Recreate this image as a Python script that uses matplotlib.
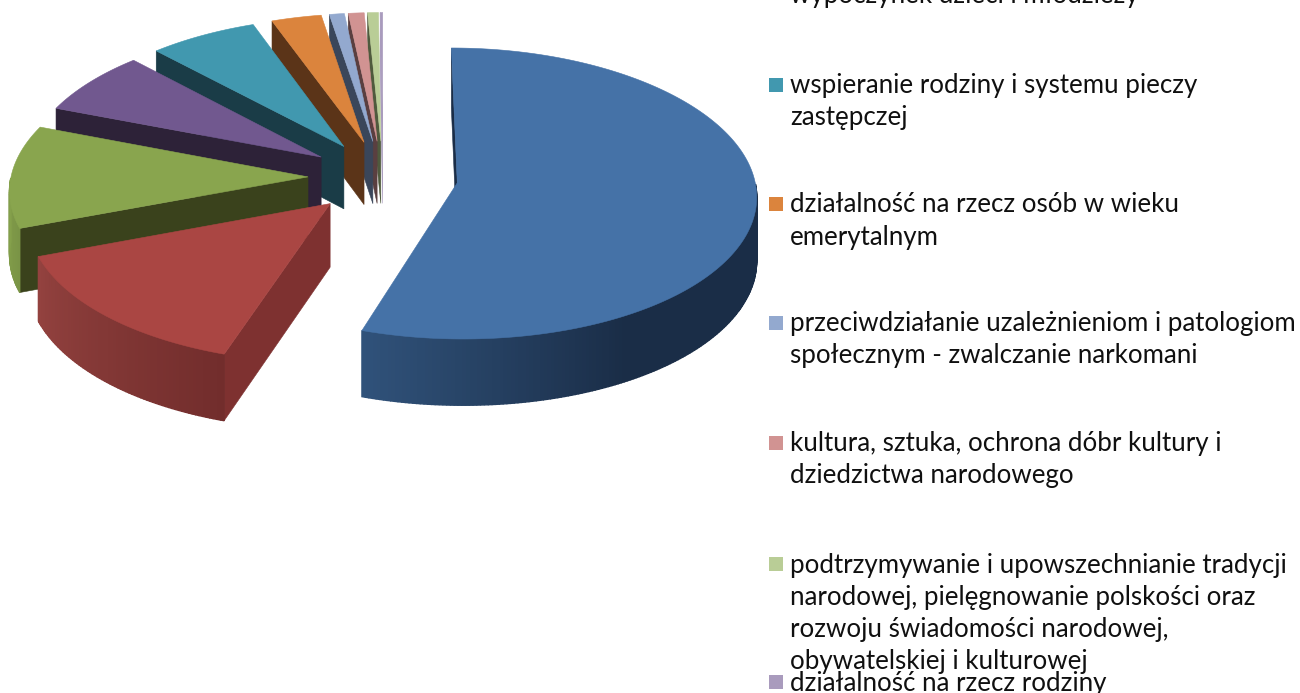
import numpy as np
import matplotlib
matplotlib.use("Agg")
import matplotlib.pyplot as plt
from matplotlib.patches import Polygon, Rectangle

# ---- data (percent shares, clockwise from the top)
shares = [55.1, 14.25, 11.4, 7.1, 6.5, 3.0, 0.9, 0.95, 0.65, 0.15]
top_colors = ["#4572A7", "#AA4643", "#89A54E", "#71588F", "#4198AF",
              "#DB843D", "#93A9CF", "#D19392", "#B9CD96", "#A99BBD"]
wall_colors = ["#1A2D47", "#7E3130", "#3A421C", "#2D2238", "#1A3C47",
               "#5B3418", "#3A465A", "#5A3F40", "#4F5A3D", "#A99BBD"]
rim_light = ["#30527A", "#93423F", "#84A04B", "#2D2238", "#1A3C47",
             "#5B3418", "#3A465A", "#5A3F40", "#4F5A3D", "#A99BBD"]
rim_dark = ["#1A2D47", "#722D2C", "#7A9446", "#2D2238", "#1A3C47",
            "#5B3418", "#3A465A", "#5A3F40", "#4F5A3D", "#A99BBD"]
legend_labels = [
    "wypoczynek dzieci i młodzieży",
    "wspieranie rodziny i systemu pieczy\nzastępczej",
    "działalność na rzecz osób w wieku\nemerytalnym",
    "przeciwdziałanie uzależnieniom i patologiom\nspołecznym - zwalczanie narkomani",
    "kultura, sztuka, ochrona dóbr kultury i\ndziedzictwa narodowego",
    "podtrzymywanie i upowszechnianie tradycji\nnarodowej, pielęgnowanie polskości oraz\nrozwoju świadomości narodowej,\nobywatelskiej i kulturowej",
    "działalność na rzecz rodziny",
]
legend_colors = [None, "#4198AF", "#DB843D", "#93A9CF", "#D19392", "#B9CD96", "#A99BBD"]
legend_first_line = [-5, 86, 205, 324, 444, 565, 683]

# ---- layout / style
W, H = 1300, 693
CX, CY, R, EXPLODE = 383.0, 177.0, 297.0, 75.0
K, P, PX = 0.487, 0.0736, 0.08   # squash and perspective of the pie plane
DEPTH, DEPTH_P = 63.0, 0.05
START = 0.0
LINE_H = 32.0
FONT = "Lato"
FONT_PX = 25.85

fig = plt.figure(figsize=(W / 100, H / 100), dpi=100)
ax = fig.add_axes([0, 0, 1, 1])
ax.set_xlim(0, W)
ax.set_ylim(H, 0)
ax.axis("off")


def project(x, y, z=0.0):
    """Plane coords (x right, y towards the viewer) to picture coords."""
    sy = CY + K * y * (1 + P * y / R)
    return CX + x * (1 + PX * y / R), sy + z * DEPTH * (1 + DEPTH_P * y / R)


def mix(c1, c2, t):
    a, b = np.array(matplotlib.colors.to_rgb(c1)), np.array(matplotlib.colors.to_rgb(c2))
    return tuple(a + (b - a) * t)


fracs = np.array(shares) / sum(shares)
edges = START + np.concatenate([[0], np.cumsum(fracs)]) * 360.0
order = [9, 8, 7, 6, 5, 4, 3, 2, 0, 1]


def poly(pts, c, z, lw=0.4):
    ax.add_patch(Polygon(np.array(pts), closed=True, fc=c, ec=c, lw=lw, zorder=z))


for rank, i in enumerate(order):
    a0, a1 = edges[i], edges[i + 1]
    mid = np.radians((a0 + a1) / 2)
    ox, oy = EXPLODE * np.sin(mid), -EXPLODE * np.cos(mid)
    th = np.radians(np.linspace(a0, a1, max(8, int((a1 - a0) * 1.5))))
    px = ox + R * np.sin(th)
    py = oy - R * np.cos(th)
    base = rank * 10

    # wall along the starting radius; perspective also shows the one at the top
    if np.sin(np.radians(a0)) < 0.01:
        pts = [project(ox, oy), project(px[0], py[0]),
               project(px[0], py[0], 1), project(ox, oy, 1)]
        poly(pts, wall_colors[i], base + 1)

    # outer rim, shaded strip by strip where it faces the viewer
    front = np.where(np.cos(th) < 0.0)[0]
    if i <= 2 and len(front) > 1:
        for n, (j, k) in enumerate(zip(front[:-1], front[1:])):
            last = max(len(front) - 2, 1)
            if i == 0:
                # lightest at the cut on the left, darkest low on the right
                t = min(1.0, (last - n) / (last * 0.45))
            else:
                # strips run right to left; the left side is the lighter one
                t = 1.0 - n / last
            poly([project(px[j], py[j]), project(px[k], py[k]),
                  project(px[k], py[k], 1), project(px[j], py[j], 1)],
                 mix(rim_light[i], rim_dark[i], t), base + 2, lw=1.0)

    # top face
    top = [project(ox, oy)] + [project(x, y) for x, y in zip(px, py)]
    poly(top, top_colors[i], base + 3)

# ---- legend
for lab, col, y0 in zip(legend_labels, legend_colors, legend_first_line):
    for n, line in enumerate(lab.split("\n")):
        ax.text(790, y0 + n * LINE_H, line, family=FONT, fontsize=FONT_PX * 0.72,
                color="#101010", va="center", ha="left", zorder=500)
    if col is not None:
        ax.add_patch(Rectangle((768.5, y0 - 8.5), 14.5, 14.5, fc=col, ec="none", zorder=500))

fig.savefig("out.png", dpi=100, facecolor="white")
